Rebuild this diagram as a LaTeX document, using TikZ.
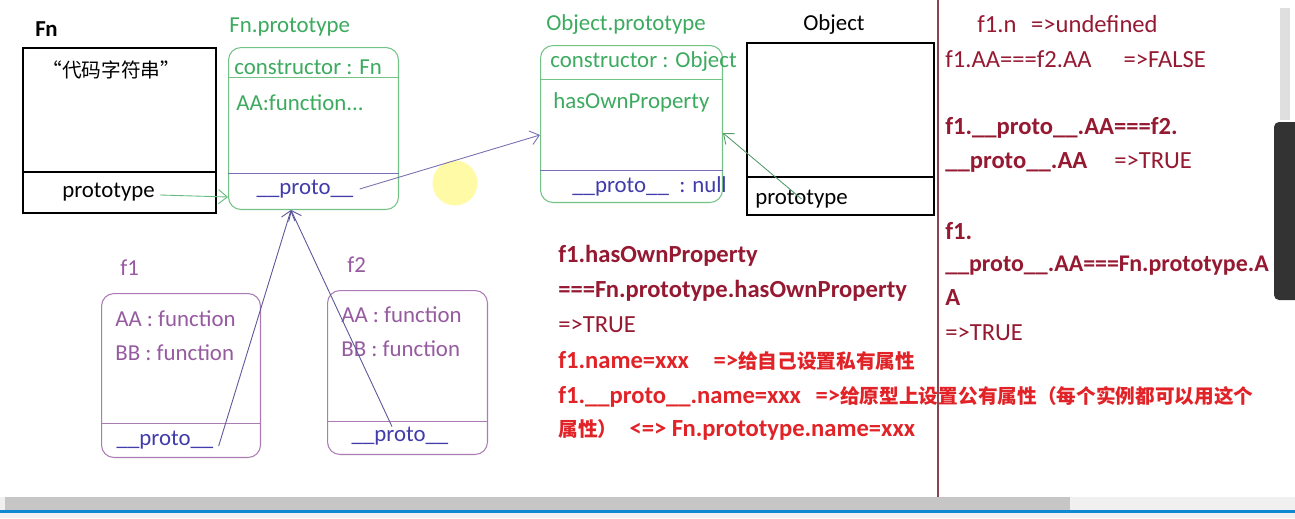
\documentclass[tikz,border=0pt]{standalone}
\usepackage{fontspec}
\setmainfont{Carlito}
\newfontfamily\cjk[Scale=0.8]{Noto Sans CJK SC}
\usetikzlibrary{arrows.meta}

\definecolor{boxgreen}{RGB}{115,195,135}
\definecolor{txtgreen}{RGB}{60,170,95}
\definecolor{purp}{RGB}{150,90,160}
\definecolor{protoblue}{RGB}{65,60,170}
\definecolor{lineblue}{RGB}{120,110,185}
\definecolor{maroon}{RGB}{150,25,50}
\definecolor{brightred}{RGB}{225,35,40}

\begin{document}
\begin{tikzpicture}[x=0.02cm,y=-0.02cm,
    lbl/.style={font=\fontsize{13}{15}\selectfont, inner sep=0pt},
    note/.style={font=\fontsize{14}{16}\selectfont, inner sep=0pt, anchor=west},
    objbox/.style={draw=black, line width=1.4pt, anchor=north west, inner sep=0pt},
    gbox/.style={draw=boxgreen, line width=0.6pt, rounded corners=0.25cm, anchor=north west, inner sep=0pt},
    pbox/.style={draw=purp!80, line width=0.6pt, rounded corners=0.25cm, anchor=north west, inner sep=0pt},
    arr/.style={line width=0.5pt, -{Straight Barb[length=5pt,width=8pt]}}]

    \useasboundingbox (0,0) rectangle (1295,518);
    \fill[white] (0,0) rectangle (1295,518);

    % cursor highlight
    \fill[yellow!35] (455,183) circle[radius=0.45cm];

    % Fn
    \node[lbl, font=\fontsize{13}{15}\selectfont\bfseries, anchor=west] (fnL) at (35,29) {Fn};
    \node[objbox, minimum width=3.86cm, minimum height=3.3cm] (fn) at (22,47) {};
    \node[lbl, anchor=west, font=\fontsize{14}{16}\selectfont] (fncode) at (42,70) {\cjk “代码字符串”};
    \draw[line width=1.4pt] (fn.west |- 0,172) -- (fn.east |- 0,172);
    \node[lbl, anchor=west] (fnprotoT) at (62,192) {prototype};

    % Fn.prototype
    \node[lbl, txtgreen, anchor=west] (fnpL) at (229,27) {Fn.prototype};
    \node[gbox, minimum width=3.4cm, minimum height=3.24cm] (fnp) at (228,47) {};
    \node[lbl, txtgreen, anchor=west] (fnpC) at (234,67) {constructor : Fn};
    \draw[boxgreen] (fnp.west |- 0,77) -- (fnp.east |- 0,77);
    \node[lbl, txtgreen, anchor=west] (fnpA) at (236,103) {AA:function...};
    \draw[lineblue] (fnp.west |- 0,173) -- (fnp.east |- 0,173);
    \node[lbl, protoblue] (fnpP) at (305,189) {\_\_proto\_\_};

    % Object.prototype
    \node[lbl, txtgreen, anchor=west] (opL) at (546,25) {Object.prototype};
    \node[gbox, minimum width=3.64cm, minimum height=3.14cm] (op) at (540,45) {};
    \node[lbl, txtgreen, anchor=west] (opC) at (550,62) {constructor : Object};
    \draw[boxgreen] (op.west |- 0,79) -- (op.east |- 0,79);
    \node[lbl, txtgreen, anchor=west] (opH) at (553,102) {hasOwnProperty};
    \draw[lineblue] (op.west |- 0,170) -- (op.east |- 0,170);
    \node[lbl, protoblue, anchor=west] (opP) at (572,186) {\_\_proto\_\_~~: null};

    % Object
    \node[lbl, anchor=west] (objL) at (803,25) {Object};
    \node[objbox, minimum width=3.74cm, minimum height=3.44cm] (obj) at (746,42) {};
    \draw[line width=1.4pt] (obj.west |- 0,177) -- (obj.east |- 0,177);
    \node[lbl, anchor=west] (objprotoT) at (755,199) {prototype};

    % f1
    \node[lbl, purp, anchor=west] (f1L) at (120,268) {f1};
    \node[pbox, minimum width=3.18cm, minimum height=3.28cm] (f1) at (101,293) {};
    \node[lbl, purp, anchor=west] (f1A) at (115,319) {AA : function};
    \node[lbl, purp, anchor=west] (f1B) at (115,353) {BB : function};
    \draw[purp!80] (f1.west |- 0,423) -- (f1.east |- 0,423);
    \node[lbl, protoblue] (f1P) at (165,440) {\_\_proto\_\_};

    % f2
    \node[lbl, purp, anchor=west] (f2L) at (347,265) {f2};
    \node[pbox, minimum width=3.2cm, minimum height=3.28cm] (f2) at (327,290) {};
    \node[lbl, purp, anchor=west] (f2A) at (341,315) {AA : function};
    \node[lbl, purp, anchor=west] (f2B) at (341,349) {BB : function};
    \draw[purp!80] (f2.west |- 0,421) -- (f2.east |- 0,421);
    \node[lbl, protoblue] (f2P) at (400,436) {\_\_proto\_\_};

    % links
    \coordinate (fnpin) at (291,210);
    \draw[arr, txtgreen!80] ([xshift=0.1cm,yshift=-0.06cm]fnprotoT.east) -- (fnp.west |- 0,197);
    \draw[arr, lineblue!90!gray] ([xshift=0.12cm]fnpP.east) -- (op.west |- 0,135);
    \draw[arr, txtgreen!60!gray] (objprotoT.center) -- (op.east |- 0,133);
    \draw[arr, protoblue!60!gray] ([xshift=0.1cm,yshift=-0.12cm]f1P.east) -- (fnpin);
    \draw[arr, protoblue!60!gray] ([xshift=-0.16cm]f2P.north) -- (fnpin);

    % notes in the middle
    \node[note, maroon, font=\fontsize{14}{16}\selectfont\bfseries] (r1) at (558,256) {f1.hasOwnProperty};
    \node[note, maroon, font=\fontsize{14}{16}\selectfont\bfseries] (r2) at (558,291) {===Fn.prototype.hasOwnProperty};
    \node[note, maroon] (r3) at (558,325) {=>TRUE};
    \node[note, brightred, font=\fontsize{14}{16}\selectfont\bfseries] (r4) at (558,361) {f1.name=xxx\hspace{1em}=>{\cjk 给自己设置私有属性}};
    \node[note, brightred, font=\fontsize{14}{16}\selectfont\bfseries] (r5) at (558,397) {f1.\_\_proto\_\_.name=xxx\hspace{0.6em}=>{\cjk 给原型上设置公有属性（每个实例都可以用这个}};
    \node[note, brightred, font=\fontsize{14}{16}\selectfont\bfseries] (r6) at (558,430) {{\cjk 属性）}\hspace{0.5em}<=> Fn.prototype.name=xxx};

    % notes on the right
    \draw[maroon!60!gray, line width=0.6pt] (938,0) -- (938,497);
    \node[note, maroon] (s1) at (977,24) {f1.n\hspace{0.6em}=>undefined};
    \node[note, maroon] (s2) at (945,59) {f1.AA===f2.AA\hspace{1.3em}=>FALSE};
    \node[note, maroon, font=\fontsize{14}{16}\selectfont\bfseries] (s3) at (945,128) {f1.\_\_proto\_\_.AA===f2.};
    \node[note, maroon] (s4) at (945,162) {\textbf{\_\_proto\_\_.AA}\hspace{1.1em}=>TRUE};
    \node[note, maroon, font=\fontsize{14}{16}\selectfont\bfseries] (s5) at (945,231) {f1.};
    \node[note, maroon, font=\fontsize{13.6}{16}\selectfont\bfseries] (s6) at (945,266) {\_\_proto\_\_.AA===Fn.prototype.A};
    \node[note, maroon, font=\fontsize{14}{16}\selectfont\bfseries] (s7) at (945,298) {A};
    \node[note, maroon] (s8) at (945,333) {=>TRUE};

    % window chrome
    \fill[gray!25] (1280,8) rectangle (1290,120);
    \fill[black!80, rounded corners=0.1cm] (1274,122) rectangle (1310,300);
    \fill[gray!12] (0,497) rectangle (1295,518);
    \fill[gray!45] (5,497) rectangle (1070,510);
    \fill[cyan!70!blue] (0,510) rectangle (1295,513);
\end{tikzpicture}
\end{document}
